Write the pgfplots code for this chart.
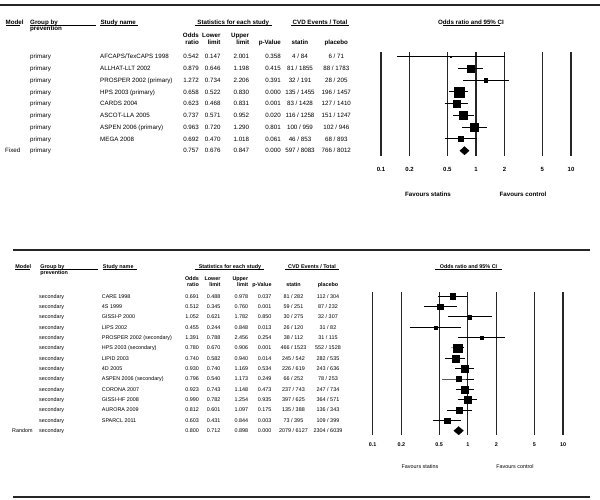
\documentclass[border=0pt]{standalone}
\usepackage{pgfplots}
\pgfplotsset{compat=1.18}
\usepackage{fontspec}
\setmainfont{Liberation Sans}
\newcommand\fT{\fontsize{6.2}{7}\selectfont}
\newcommand\fB{\fontsize{5.4}{6}\selectfont}

% top table row: idx, group, name, or, lo, hi, p, statin, placebo
\newcommand\rowT[9]{%
 \pgfmathsetmacro\yy{56.7+(#1-1)*11.75+2.2}%
 \node[anchor=base west] at (30,\yy) {#2};
 \node[anchor=base west] at (100,\yy) {#3};
 \node[anchor=base east] at (199,\yy) {#4};
 \node[anchor=base east] at (220.7,\yy) {#5};
 \node[anchor=base east] at (249.3,\yy) {#6};
 \node[anchor=base east] at (281,\yy) {#7};
 \node[anchor=base] at (300,\yy) {#8};
 \node[anchor=base] at (336.3,\yy) {#9};
}
\newcommand\rowB[9]{%
 \pgfmathsetmacro\yy{296.3+(#1-1)*10.34+1.95}%
 \node[anchor=base west] at (39,\yy) {#2};
 \node[anchor=base west] at (101.7,\yy) {#3};
 \node[anchor=base east] at (199,\yy) {#4};
 \node[anchor=base east] at (220.7,\yy) {#5};
 \node[anchor=base east] at (248.3,\yy) {#6};
 \node[anchor=base east] at (271.7,\yy) {#7};
 \node[anchor=base] at (293.5,\yy) {#8};
 \node[anchor=base] at (328,\yy) {#9};
}

\begin{document}
\begin{tikzpicture}
\useasboundingbox (0,0) rectangle (600pt,-500pt);

\begin{scope}[x=1pt,y=-1pt]
\draw[line width=1.8pt, black!85] (0,5) -- (600,5);
\draw[line width=1.8pt, black!85] (13,250) -- (590,250);
\draw[line width=1.8pt, black!85] (13,497) -- (590,497);
\end{scope}

% ---------------- top forest plot ----------------
\begin{axis}[scale only axis, xmode=log, xmin=0.1, xmax=10,
 axis line style={draw=none}, major tick length=0pt, minor tick length=0pt,
 ytick=\empty,
 xtick={0.1,0.2,0.5,1,2,5,10}, xticklabels={0.1,0.2,0.5,1,2,5,10},
 xmajorgrids, grid style={black!85, line width=1.2pt},
 clip=false,
 width=190pt, height=104pt,
 at={(381pt,-51.7pt)}, anchor=north west,
 ymin=-9.4255, ymax=-0.5745,
 xticklabel style={font=\bfseries\fontsize{6}{7}\selectfont, anchor=center, yshift=-13.6pt, inner sep=0pt}]
\addplot[black, line width=1pt, mark=square*, mark size=0.75pt, mark indices={2}, mark options={solid, fill=black, line width=0.2pt}] coordinates {(0.147,-1) (0.542,-1) (2.001,-1)};
\addplot[black, line width=1pt, mark=square*, mark size=3.65pt, mark indices={2}, mark options={solid, fill=black, line width=0.2pt}] coordinates {(0.646,-2) (0.879,-2) (1.198,-2)};
\addplot[black, line width=1pt, mark=square*, mark size=1.65pt, mark indices={2}, mark options={solid, fill=black, line width=0.2pt}] coordinates {(0.734,-3) (1.272,-3) (2.206,-3)};
\addplot[black, line width=1pt, mark=square*, mark size=5pt, mark indices={2}, mark options={solid, fill=black, line width=0.2pt}] coordinates {(0.522,-4) (0.658,-4) (0.830,-4)};
\addplot[black, line width=1pt, mark=square*, mark size=3.85pt, mark indices={2}, mark options={solid, fill=black, line width=0.2pt}] coordinates {(0.468,-5) (0.623,-5) (0.831,-5)};
\addplot[black, line width=1pt, mark=square*, mark size=4pt, mark indices={2}, mark options={solid, fill=black, line width=0.2pt}] coordinates {(0.571,-6) (0.737,-6) (0.952,-6)};
\addplot[black, line width=1pt, mark=square*, mark size=3.85pt, mark indices={2}, mark options={solid, fill=black, line width=0.2pt}] coordinates {(0.720,-7) (0.963,-7) (1.290,-7)};
\addplot[black, line width=1pt, mark=square*, mark size=2.5pt, mark indices={2}, mark options={solid, fill=black, line width=0.2pt}] coordinates {(0.470,-8) (0.692,-8) (1.018,-8)};
\addplot[black, mark=none, fill=black, line width=0.3pt] coordinates {(0.676,-9) (0.757,-8.645) (0.847,-9) (0.757,-9.355) (0.676,-9)};
\end{axis}

% ---------------- bottom forest plot ----------------
\begin{axis}[scale only axis, xmode=log, xmin=0.1, xmax=10,
 axis line style={draw=none}, major tick length=0pt, minor tick length=0pt,
 ytick=\empty,
 xtick={0.1,0.2,0.5,1,2,5,10}, xticklabels={0.1,0.2,0.5,1,2,5,10},
 xmajorgrids, grid style={black!85, line width=1.2pt},
 clip=false,
 width=190.3pt, height=143.3pt,
 at={(372.7pt,-291.7pt)}, anchor=north west,
 ymin=-14.416, ymax=-0.555,
 xticklabel style={font=\bfseries\fontsize{5.4}{6}\selectfont, anchor=center, yshift=-10pt, inner sep=0pt}]
\addplot[black, line width=1pt, mark=square*, mark size=2.85pt, mark indices={2}, mark options={solid, fill=black, line width=0.2pt}] coordinates {(0.488,-1) (0.691,-1) (0.978,-1)};
\addplot[black, line width=1pt, mark=square*, mark size=2.85pt, mark indices={2}, mark options={solid, fill=black, line width=0.2pt}] coordinates {(0.345,-2) (0.512,-2) (0.760,-2)};
\addplot[black, line width=1pt, mark=square*, mark size=1.65pt, mark indices={2}, mark options={solid, fill=black, line width=0.2pt}] coordinates {(0.621,-3) (1.052,-3) (1.782,-3)};
\addplot[black, line width=1pt, mark=square*, mark size=1.65pt, mark indices={2}, mark options={solid, fill=black, line width=0.2pt}] coordinates {(0.244,-4) (0.455,-4) (0.848,-4)};
\addplot[black, line width=1pt, mark=square*, mark size=1.65pt, mark indices={2}, mark options={solid, fill=black, line width=0.2pt}] coordinates {(0.788,-5) (1.391,-5) (2.456,-5)};
\addplot[black, line width=1pt, mark=square*, mark size=4.15pt, mark indices={2}, mark options={solid, fill=black, line width=0.2pt}] coordinates {(0.670,-6) (0.780,-6) (0.906,-6)};
\addplot[black, line width=1pt, mark=square*, mark size=3.5pt, mark indices={2}, mark options={solid, fill=black, line width=0.2pt}] coordinates {(0.582,-7) (0.740,-7) (0.940,-7)};
\addplot[black, line width=1pt, mark=square*, mark size=3.35pt, mark indices={2}, mark options={solid, fill=black, line width=0.2pt}] coordinates {(0.740,-8) (0.930,-8) (1.169,-8)};
\addplot[black, line width=1pt, mark=square*, mark size=2.5pt, mark indices={2}, mark options={solid, fill=black, line width=0.2pt}] coordinates {(0.540,-9) (0.796,-9) (1.173,-9)};
\addplot[black, line width=1pt, mark=square*, mark size=3.35pt, mark indices={2}, mark options={solid, fill=black, line width=0.2pt}] coordinates {(0.743,-10) (0.923,-10) (1.148,-10)};
\addplot[black, line width=1pt, mark=square*, mark size=3.35pt, mark indices={2}, mark options={solid, fill=black, line width=0.2pt}] coordinates {(0.782,-11) (0.990,-11) (1.254,-11)};
\addplot[black, line width=1pt, mark=square*, mark size=3.15pt, mark indices={2}, mark options={solid, fill=black, line width=0.2pt}] coordinates {(0.601,-12) (0.812,-12) (1.097,-12)};
\addplot[black, line width=1pt, mark=square*, mark size=2.65pt, mark indices={2}, mark options={solid, fill=black, line width=0.2pt}] coordinates {(0.431,-13) (0.603,-13) (0.844,-13)};
\addplot[black, mark=none, fill=black, line width=0.3pt] coordinates {(0.712,-14) (0.800,-13.6) (0.898,-14) (0.800,-14.4) (0.712,-14)};
\end{axis}

% ---------------- texts ----------------
\begin{scope}[x=1pt,y=-1pt, every node/.style={inner sep=0pt, font=\fT}]
\begin{scope}[every node/.append style={font=\fT\bfseries}]
\node[anchor=base west] at (5.5,24.2) {Model};
\node[anchor=base west] at (30,24.2) {Group by};
\node[anchor=base west] at (30,31) {prevention};
\node[anchor=base west] at (100.4,24.2) {Study name};
\node[anchor=base] at (233.3,24.2) {Statistics for each study};
\node[anchor=base] at (320,24.2) {CVD Events / Total};
\node[anchor=base] at (471,24.2) {Odds ratio and 95\% CI};
\node[anchor=base east] at (199,37.7) {Odds};
\node[anchor=base east] at (220.7,37.7) {Lower};
\node[anchor=base east] at (249.3,37.7) {Upper};
\node[anchor=base east] at (199,44.9) {ratio};
\node[anchor=base east] at (220.7,44.9) {limit};
\node[anchor=base east] at (249.3,44.9) {limit};
\node[anchor=base east] at (281,44.9) {p-Value};
\node[anchor=base] at (300,44.9) {statin};
\node[anchor=base] at (336.3,44.9) {placebo};
\node at (428,194) {Favours statins};
\node at (523,194) {Favours control};
\end{scope}
\draw[line width=0.6pt] (5.5,25.8) -- (19.5,25.8) (30,25.8) -- (95.8,25.8) (100.4,25.8) -- (138,25.8)
  (194.6,25.8) -- (272,25.8) (291,25.8) -- (348.7,25.8) (442.5,25.8) -- (500,25.8);

\rowT{1}{primary}{AFCAPS/TexCAPS 1998}{0.542}{0.147}{2.001}{0.358}{4 / 84}{6 / 71}
\rowT{2}{primary}{ALLHAT-LLT 2002}{0.879}{0.646}{1.198}{0.415}{81 / 1855}{88 / 1783}
\rowT{3}{primary}{PROSPER 2002 (primary)}{1.272}{0.734}{2.206}{0.391}{32 / 191}{28 / 205}
\rowT{4}{primary}{HPS 2003 (primary)}{0.658}{0.522}{0.830}{0.000}{135 / 1455}{196 / 1457}
\rowT{5}{primary}{CARDS 2004}{0.623}{0.468}{0.831}{0.001}{83 / 1428}{127 / 1410}
\rowT{6}{primary}{ASCOT-LLA 2005}{0.737}{0.571}{0.952}{0.020}{116 / 1258}{151 / 1247}
\rowT{7}{primary}{ASPEN 2006 (primary)}{0.963}{0.720}{1.290}{0.801}{100 / 959}{102 / 946}
\rowT{8}{primary}{MEGA 2008}{0.692}{0.470}{1.018}{0.061}{46 / 853}{68 / 893}
\rowT{9}{primary}{}{0.757}{0.676}{0.847}{0.000}{597 / 8083}{766 / 8012}
\node[anchor=base west] at (5,152.9) {Fixed};
\end{scope}

\begin{scope}[x=1pt,y=-1pt, every node/.style={inner sep=0pt, font=\fB}]
\begin{scope}[every node/.append style={font=\fB\bfseries}]
\node[anchor=base west] at (15.3,268) {Model};
\node[anchor=base west] at (40.2,268) {Group by};
\node[anchor=base west] at (40.2,274.2) {prevention};
\node[anchor=base west] at (102.7,268) {Study name};
\node[anchor=base] at (230,268) {Statistics for each study};
\node[anchor=base] at (312,268) {CVD Events / Total};
\node[anchor=base] at (468.5,268) {Odds ratio and 95\% CI};
\node[anchor=base east] at (199,280.2) {Odds};
\node[anchor=base east] at (220.7,280.2) {Lower};
\node[anchor=base east] at (248.3,280.2) {Upper};
\node[anchor=base east] at (199,286.6) {ratio};
\node[anchor=base east] at (220.7,286.6) {limit};
\node[anchor=base east] at (248.3,286.6) {limit};
\node[anchor=base east] at (271.7,286.6) {p-Value};
\node[anchor=base] at (293.5,286.6) {statin};
\node[anchor=base] at (328,286.6) {placebo};
\end{scope}
\node at (420,466.7) {Favours statins};
\node at (515,466.7) {Favours control};
\draw[line width=0.55pt] (15.3,269.4) -- (29.9,269.4) (40.2,269.4) -- (97.7,269.4) (102.7,269.4) -- (137.2,269.4)
  (195.4,269.4) -- (264.4,269.4) (285.4,269.4) -- (339,269.4) (434.9,269.4) -- (502,269.4);

\rowB{1}{secondary}{CARE 1998}{0.691}{0.488}{0.978}{0.037}{81 / 282}{112 / 304}
\rowB{2}{secondary}{4S 1999}{0.512}{0.345}{0.760}{0.001}{59 / 251}{87 / 232}
\rowB{3}{secondary}{GISSI-P 2000}{1.052}{0.621}{1.782}{0.850}{30 / 275}{32 / 307}
\rowB{4}{secondary}{LIPS 2002}{0.455}{0.244}{0.848}{0.013}{26 / 120}{31 / 82}
\rowB{5}{secondary}{PROSPER 2002 (secondary)}{1.391}{0.788}{2.456}{0.254}{38 / 112}{31 / 115}
\rowB{6}{secondary}{HPS 2003 (secondary)}{0.780}{0.670}{0.906}{0.001}{466 / 1523}{552 / 1528}
\rowB{7}{secondary}{LIPID 2003}{0.740}{0.582}{0.940}{0.014}{245 / 542}{282 / 535}
\rowB{8}{secondary}{4D 2005}{0.930}{0.740}{1.169}{0.534}{226 / 619}{243 / 636}
\rowB{9}{secondary}{ASPEN 2006 (secondary)}{0.796}{0.540}{1.173}{0.249}{66 / 252}{78 / 253}
\rowB{10}{secondary}{CORONA 2007}{0.923}{0.743}{1.148}{0.473}{237 / 743}{247 / 734}
\rowB{11}{secondary}{GISSI-HF 2008}{0.990}{0.782}{1.254}{0.935}{397 / 625}{364 / 571}
\rowB{12}{secondary}{AURORA 2009}{0.812}{0.601}{1.097}{0.175}{135 / 388}{136 / 343}
\rowB{13}{secondary}{SPARCL 2011}{0.603}{0.431}{0.844}{0.003}{73 / 395}{109 / 399}
\rowB{14}{secondary}{}{0.800}{0.712}{0.898}{0.000}{2079 / 6127}{2304 / 6039}
\node[anchor=base west] at (12,432.7) {Random};
\end{scope}
\end{tikzpicture}
\end{document}
